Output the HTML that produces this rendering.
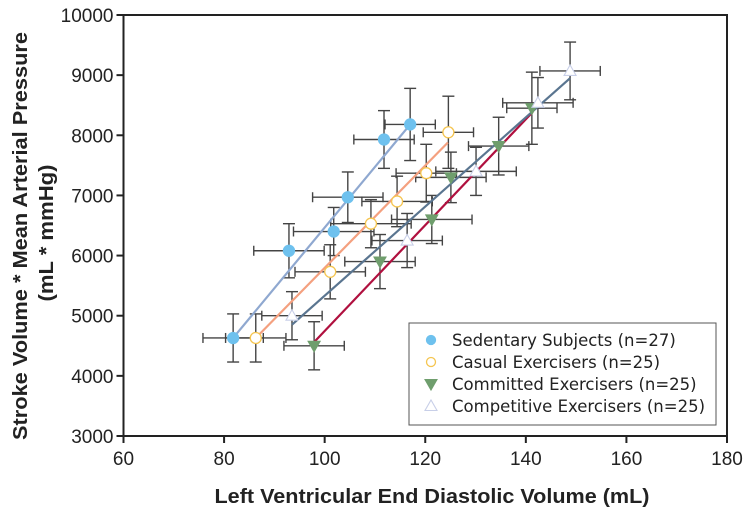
<!DOCTYPE html>
<html><head><meta charset="utf-8"><style>
body{margin:0;background:#fff;}
svg{display:block;font-family:"Liberation Sans",sans-serif;}
</style></head><body>
<svg id="chart" width="750" height="515">
<g id="frame"></g><g id="errs"></g><g id="lines"></g><g id="marks"></g><g id="axes"></g><g id="legend"></g>
</svg>
<script>
const xTicks=[60,80,100,120,140,160,180];
const yTicks=[3000,4000,5000,6000,7000,8000,9000,10000];
const sedX=[81.8,92.9,101.8,104.6,111.8,117.0];
const sedY=[4630,6080,6400,6970,7930,8180];
const casX=[86.3,101.1,109.2,114.4,120.2,124.6];
const casY=[4630,5730,6530,6900,7370,8050];
const comX=[97.9,111.0,121.3,125.1,134.6,141.2];
const comY=[4500,5900,6600,7300,7820,8450];
const cptX=[93.5,116.4,130.1,142.4,148.8];
const cptY=[5000,6250,7400,8540,9070];
const errX=[6,7,8,7,6,5];
const errY=[400,450,400,420,480,600];
const lineSed=[81.8,4630,117.0,8180];
const lineCas=[86.3,4630,124.5,7880];
const lineCom=[97.9,4560,141.4,8390];
const lineCpt=[93.5,4850,148.8,8950];
const X0=123.5,X1=727,Y0=436,Y1=15;
const sx=v=>X0+(v-60)*(X1-X0)/120;
const sy=v=>Y0-(v-3000)*(Y0-Y1)/7000;
const NS="http://www.w3.org/2000/svg";
const DV='"DejaVu Sans","Liberation Sans",sans-serif';
function mk(p,t,a){const e=document.createElementNS(NS,t);for(const k in a)e.setAttribute(k,a[k]);document.getElementById(p).appendChild(e);return e;}
let r=mk('frame','rect',{x:X0,y:Y1,width:X1-X0,height:Y0-Y1,fill:'none',stroke:'#222','stroke-width':2});


xTicks.forEach(t=>{mk('axes','line',{x1:sx(t),x2:sx(t),y1:Y0,y2:Y0+7,stroke:'#222','stroke-width':2});
 const l=mk('axes','text',{x:sx(t),y:Y0+29,'text-anchor':'middle','font-size':19,fill:'#222'});l.textContent=t;
 
 });
yTicks.forEach(t=>{mk('axes','line',{x1:X0-7,x2:X0,y1:sy(t),y2:sy(t),stroke:'#222','stroke-width':2});
 const l=mk('axes','text',{x:X0-10,y:sy(t)+7,'text-anchor':'end','font-size':19,fill:'#222'});l.textContent=t;
 
 });
let xt=mk('axes','text',{x:432,y:503,'text-anchor':'middle','font-size':20,'font-weight':'bold',fill:'#222',textLength:435,lengthAdjust:'spacingAndGlyphs'});xt.textContent='Left Ventricular End Diastolic Volume (mL)';


let yt=mk('axes','text',{transform:'translate(27,236) rotate(-90)','text-anchor':'middle','font-size':20,'font-weight':'bold',fill:'#222',textLength:408,lengthAdjust:'spacingAndGlyphs'});yt.textContent='Stroke Volume * Mean Arterial Pressure';


let yt2=mk('axes','text',{transform:'translate(53,233) rotate(-90)','text-anchor':'middle','font-size':20,'font-weight':'bold',fill:'#222',textLength:137,lengthAdjust:'spacingAndGlyphs'});yt2.textContent='(mL * mmHg)';


function errs(xs,ys){xs.forEach((x,i)=>{const ex=errX[i%errX.length],ey=errY[i%errY.length];
 const c='#444',w=1.4;
 mk('errs','line',{x1:sx(x-ex),x2:sx(x+ex),y1:sy(ys[i]),y2:sy(ys[i]),stroke:c,'stroke-width':w});
 mk('errs','line',{x1:sx(x),x2:sx(x),y1:sy(ys[i]-ey),y2:sy(ys[i]+ey),stroke:c,'stroke-width':w});
 [x-ex,x+ex].forEach(v=>mk('errs','line',{x1:sx(v),x2:sx(v),y1:sy(ys[i])-5,y2:sy(ys[i])+5,stroke:c,'stroke-width':w}));
 [ys[i]-ey,ys[i]+ey].forEach(v=>mk('errs','line',{x1:sx(x)-6,x2:sx(x)+6,y1:sy(v),y2:sy(v),stroke:c,'stroke-width':w}));});}
errs(sedX,sedY);errs(casX,casY);errs(comX,comY);errs(cptX,cptY);
[[lineSed,'#8fa8d0','sedentary-fit-line'],[lineCas,'#f4a07f','casual-fit-line'],[lineCom,'#b0103f','committed-fit-line'],[lineCpt,'#5a7590','competitive-fit-line']].forEach(([L,c,n])=>{
 const e=mk('lines','line',{x1:sx(L[0]),y1:sy(L[1]),x2:sx(L[2]),y2:sy(L[3]),stroke:c,'stroke-width':2.2});
 
 });
function circ(g,x,y,f,s){return mk(g,'circle',{cx:x,cy:y,r:5.5,fill:f,stroke:s,'stroke-width':1.3});}
function tri(g,x,y,down,f,s){const d=down?1:-1;return mk(g,'polygon',{points:`${x-6},${y-d*4.5} ${x+6},${y-d*4.5} ${x},${y+d*6}`,fill:f,stroke:s,'stroke-width':1.1});}
sedX.forEach((x,i)=>{const e=circ('marks',sx(x),sy(sedY[i]),'#6ec1ee','#6ec1ee');
 
 });
casX.forEach((x,i)=>{const e=circ('marks',sx(x),sy(casY[i]),'#fff','#f5c550');
 
 });
comX.forEach((x,i)=>{const e=tri('marks',sx(x),sy(comY[i]),true,'#6f9e6d','#6f9e6d');
 
 });
cptX.forEach((x,i)=>{const e=tri('marks',sx(x),sy(cptY[i]),false,'#fff','#c8cfe8');
 
 });
const lg=mk('legend','rect',{x:409,y:323,width:307,height:102,fill:'#fff',stroke:'#555','stroke-width':1});


const labs=['Sedentary Subjects (n=27)','Casual Exercisers (n=25)','Committed Exercisers (n=25)','Competitive Exercisers (n=25)'];
labs.forEach((t,i)=>{const y=340+i*22;
 if(i==0)circ('legend',431,y,'#6ec1ee','#6ec1ee').setAttribute('r',4.5);
 if(i==1)circ('legend',431,y,'#fff','#f5c550').setAttribute('r',4.5);
 if(i==2)tri('legend',431,y,true,'#6f9e6d','#6f9e6d');
 if(i==3)tri('legend',431,y,false,'#fff','#c8cfe8');
 const e=mk('legend','text',{x:452,y:y+6,'font-size':16.5,fill:'#222','font-family':DV});e.textContent=t;
 
 });
</script>
</body></html>
